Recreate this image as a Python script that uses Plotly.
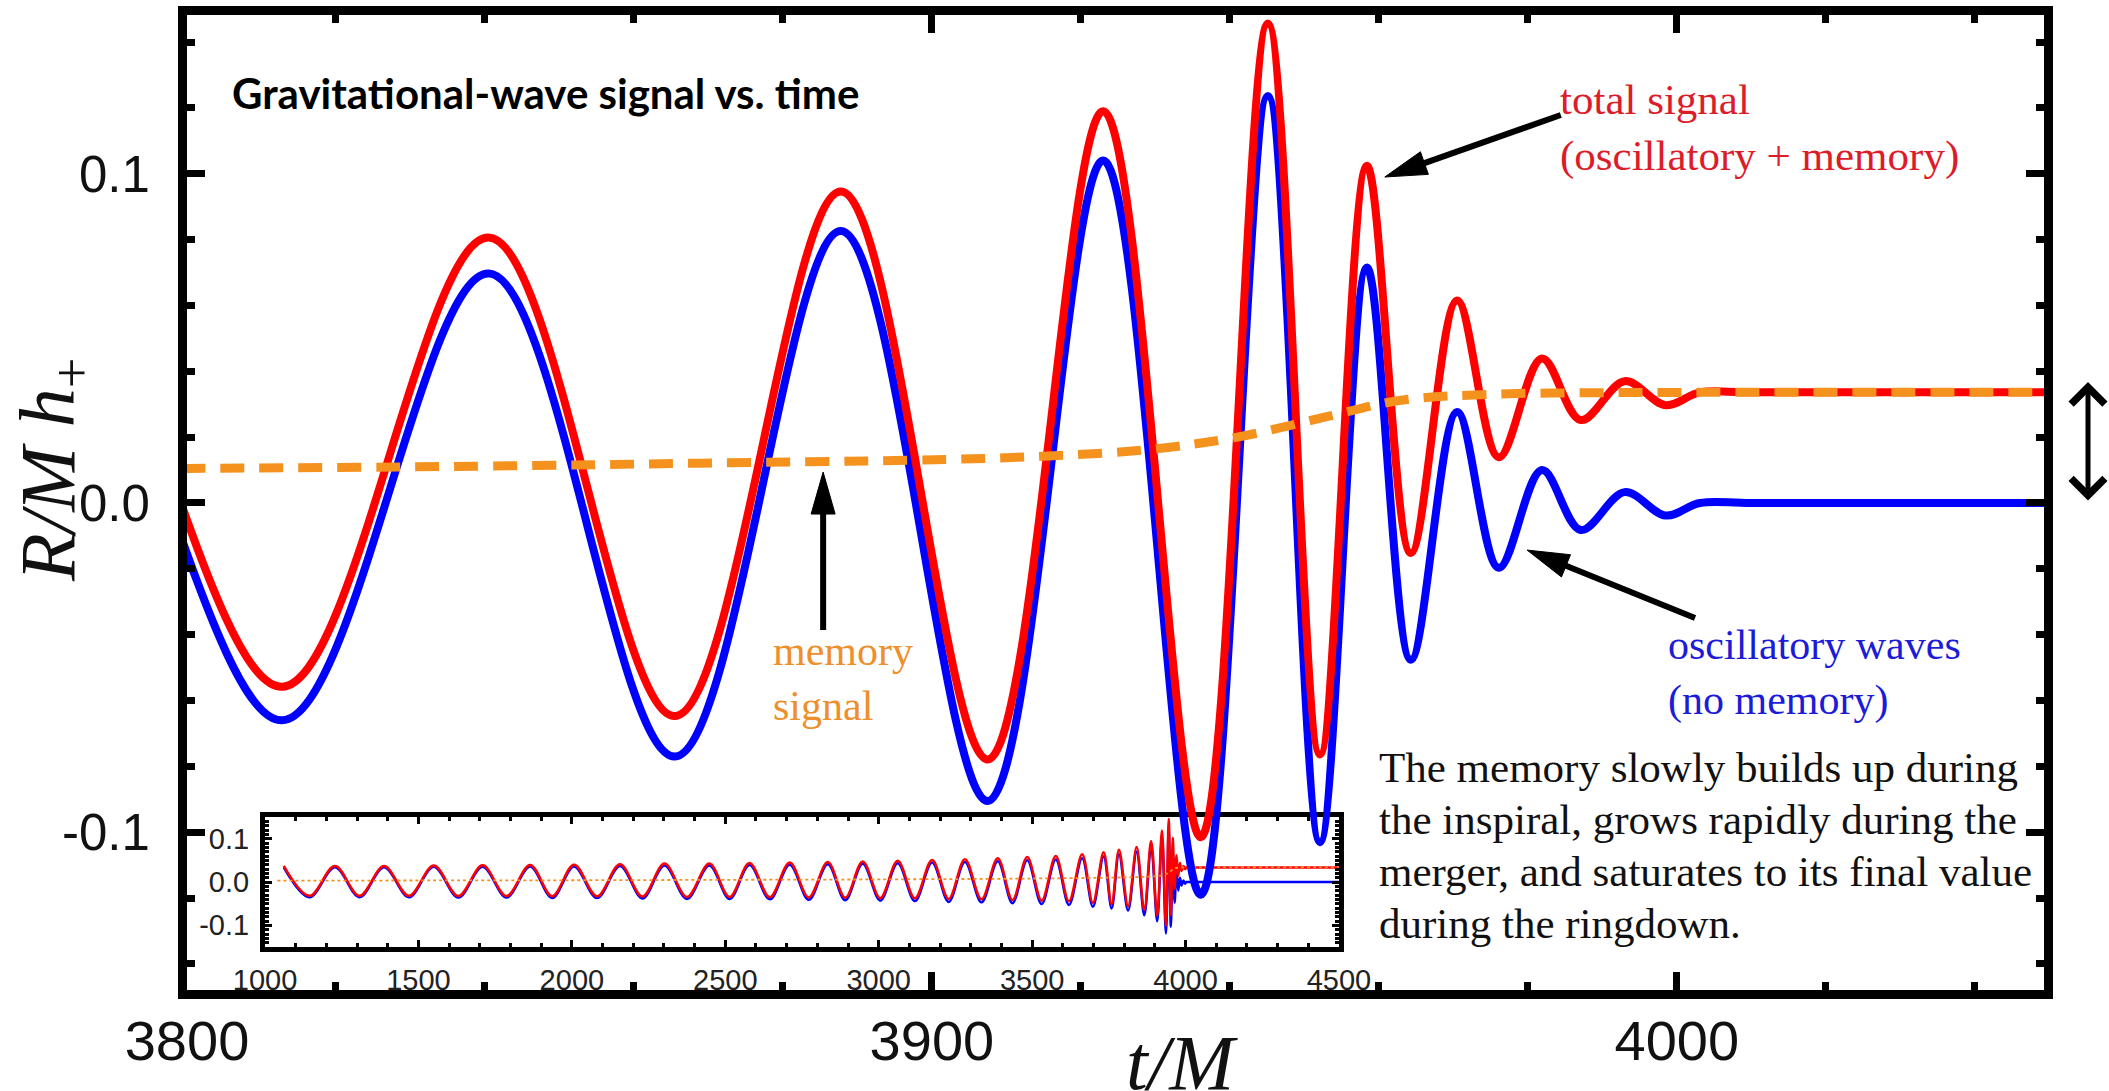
import math
import plotly.graph_objects as go

# ---------------- data ----------------
# times (t/M) of successive extrema of the strain (peak, trough, ...), then the flat tail
t_ext = [1061, 1145, 1228, 1308, 1388, 1469, 1550, 1630, 1709, 1787,
         1864, 1936, 2007, 2082, 2157, 2230, 2302, 2375, 2448, 2514,
         2579, 2645, 2710, 2772, 2834, 2891, 2948, 3005, 3062, 3118,
         3174, 3228, 3281, 3335, 3388, 3436, 3484, 3531, 3577, 3620,
         3663, 3698, 3733, 3759, 3783, 3812.75, 3840.5, 3865.5, 3887.8, 3907.5,
         3923, 3936.1, 3945.1, 3952.1, 3958.4, 3964.3, 3970.5, 3976.1, 3981.9, 3987.1,
         3993.0, 3998.5, 4003.1, 4010, 4050, 4500]

# oscillatory waves (no memory), R/M h+
h_osc = [0.034, -0.035, 0.034, -0.035, 0.034, -0.035, 0.035, -0.036, 0.035, -0.036,
         0.036, -0.037, 0.036, -0.037, 0.037, -0.038, 0.038, -0.039, 0.038, -0.039,
         0.039, -0.040, 0.040, -0.041, 0.041, -0.042, 0.042, -0.043, 0.043, -0.044,
         0.045, -0.046, 0.046, -0.047, 0.048, -0.049, 0.050, -0.051, 0.052, -0.053,
         0.055, -0.057, 0.059, -0.061, 0.064, -0.066, 0.0697, -0.077, 0.0826, -0.0905,
         0.104, -0.119, 0.1236, -0.103, 0.0715, -0.0476, 0.0276, -0.0197, 0.0100, -0.0082,
         0.0033, -0.0038, 0.0, 0.0, 0.0, 0.0]

# total signal (oscillatory + memory), R/M h+
h_tot = [0.037, -0.032, 0.037, -0.032, 0.037, -0.032, 0.038, -0.0325, 0.0385, -0.0325,
         0.0395, -0.033, 0.040, -0.033, 0.041, -0.0335, 0.0425, -0.0345, 0.0425, -0.0345,
         0.044, -0.035, 0.045, -0.0355, 0.046, -0.0365, 0.0475, -0.037, 0.049, -0.0375,
         0.051, -0.039, 0.0525, -0.040, 0.055, -0.0415, 0.0575, -0.043, 0.060, -0.0445,
         0.064, -0.048, 0.0685, -0.051, 0.0743, -0.0558, 0.0806, -0.0647, 0.0946, -0.0779,
         0.119, -0.1015, 0.1456, -0.0764, 0.1024, -0.0152, 0.0615, 0.0139, 0.0439, 0.0252,
         0.0370, 0.0297, 0.0336, 0.0336, 0.0336, 0.0336]

# memory signal
t_mem = [1040, 1500, 2000, 2500, 3000, 3500, 3800, 3840, 3869, 3897,
         3915, 3929, 3941, 3953, 3963, 3975, 3990, 4003, 4050, 4500]
h_mem = [0.0030, 0.0035, 0.0040, 0.0050, 0.0060, 0.0080, 0.0105, 0.0112, 0.0121, 0.0130,
         0.0142, 0.0162, 0.0200, 0.0262, 0.0312, 0.0330, 0.0335, 0.0336, 0.0336, 0.0336]

# tick labels
main_x_ticks = [3800, 3900, 4000]
y_tick_vals = [-0.1, 0.0, 0.1]
y_tick_text = ['-0.1', '0.0', '0.1']
inset_x_ticks = [1000, 1500, 2000, 2500, 3000, 3500, 4000, 4500]

# explanatory text, one entry per line
note_lines = ['The memory slowly builds up during',
              'the inspiral, grows rapidly during the',
              'merger, and saturates to its final value',
              'during the ringdown.']

# ---------------- figure ----------------
W, H = 2109, 1091
RED, BLUE, ORANGE = '#ff0000', '#0000ff', '#f5921e'
SANS = 'Liberation Sans, Arial, sans-serif'
SERIF = 'Liberation Serif, Times New Roman, serif'

fig = go.Figure()

# inset (drawn first, underneath the main curves)
fig.add_trace(go.Scatter(x=t_ext, y=h_osc, xaxis='x', yaxis='y', mode='lines',
                         line=dict(color=BLUE, width=2.5, shape='spline', simplify=False),
                         hoverinfo='skip'))
fig.add_trace(go.Scatter(x=t_ext, y=h_tot, xaxis='x', yaxis='y', mode='lines',
                         line=dict(color=RED, width=2.5, shape='spline', simplify=False),
                         hoverinfo='skip'))
fig.add_trace(go.Scatter(x=t_mem, y=h_mem, xaxis='x', yaxis='y', mode='lines',
                         line=dict(color=ORANGE, width=1.8, dash='dot', shape='spline', simplify=False),
                         hoverinfo='skip'))

# main panel
fig.add_trace(go.Scatter(x=t_ext, y=h_osc, xaxis='x2', yaxis='y2', mode='lines',
                         line=dict(color=BLUE, width=8, shape='spline', simplify=False),
                         hoverinfo='skip'))
fig.add_trace(go.Scatter(x=t_ext, y=h_tot, xaxis='x2', yaxis='y2', mode='lines',
                         line=dict(color=RED, width=8, shape='spline', simplify=False),
                         hoverinfo='skip'))
fig.add_trace(go.Scatter(x=t_mem, y=h_mem, xaxis='x2', yaxis='y2', mode='lines',
                         line=dict(color=ORANGE, width=9, dash='24px,15px', shape='spline', simplify=False),
                         hoverinfo='skip'))

main_axis = dict(showline=True, linecolor='black', linewidth=9, mirror='allticks',
                 ticks='inside', tickcolor='black', tickwidth=7, ticklen=18,
                 showgrid=False, zeroline=False, automargin=False)
inset_axis = dict(showline=True, linecolor='black', linewidth=5, mirror='allticks',
                  ticks='inside', tickcolor='black', tickwidth=3, ticklen=7,
                  showgrid=False, zeroline=False, automargin=False)

fig.update_layout(
    width=W, height=H, autosize=False,
    margin=dict(l=0, r=0, t=0, b=0, autoexpand=False),
    paper_bgcolor='white', plot_bgcolor='rgba(0,0,0,0)',
    showlegend=False,
    xaxis=dict(inset_axis, domain=[265 / W, 1339 / W], range=[999.9, 4500.1], anchor='y',
               tickmode='array', tickvals=inset_x_ticks, tickformat='d',
               tickfont=dict(family=SANS, size=29, color='#222'), ticklabelstandoff=3,
               minor=dict(tickmode='linear', tick0=1000, dtick=100, ticks='inside',
                          ticklen=4, tickwidth=3, tickcolor='black')),
    yaxis=dict(inset_axis, domain=[1 - 947 / H, 1 - 817 / H], range=[-0.15, 0.15], anchor='x',
               tickmode='array', tickvals=y_tick_vals, ticktext=y_tick_text,
               tickfont=dict(family=SANS, size=29, color='#222'), ticklabelstandoff=5,
               minor=dict(tickmode='linear', tick0=0, dtick=0.01, ticks='inside',
                          ticklen=4, tickwidth=2.5, tickcolor='black')),
    xaxis2=dict(main_axis, domain=[187 / W, 2044 / W], range=[3800, 4049.3], anchor='y2',
                tickmode='array', tickvals=main_x_ticks, tickformat='d',
                tickfont=dict(family=SANS, size=56, color='#111'), ticklabelstandoff=-6,
                minor=dict(tickmode='linear', tick0=3800, dtick=20, ticks='inside',
                           ticklen=8, tickwidth=7, tickcolor='black')),
    yaxis2=dict(main_axis, domain=[1 - 990 / H, 1 - 15 / H], range=[-0.1479, 0.1482], anchor='x2',
                tickmode='array', tickvals=y_tick_vals, ticktext=y_tick_text,
                tickfont=dict(family=SANS, size=51, color='#111'), ticklabelstandoff=18,
                minor=dict(tickmode='linear', tick0=0, dtick=0.02, ticks='inside',
                           ticklen=8, tickwidth=7, tickcolor='black')),
)

ann = []
# title
ann.append(dict(text='<b>Gravitational-wave signal vs. time</b>', xref='paper', yref='paper',
                x=230 / W, y=1 - 93 / H, xanchor='left', yanchor='middle', showarrow=False,
                font=dict(family='Lato, Open Sans, sans-serif', size=42, color='black')))
# labels
ann.append(dict(text='total signal<br>(oscillatory + memory)', xref='paper', yref='paper',
                x=1558 / W, y=1 - 74 / H, xanchor='left', yanchor='top', align='left',
                showarrow=False, font=dict(family=SERIF, size=43, color='#dd1c2a')))
ann.append(dict(text='oscillatory waves<br>(no memory)', xref='paper', yref='paper',
                x=1666 / W, y=1 - 620 / H, xanchor='left', yanchor='top', align='left',
                showarrow=False, font=dict(family=SERIF, size=42, color='#1c1cd8')))
ann.append(dict(text='memory<br>signal', xref='paper', yref='paper',
                x=771 / W, y=1 - 626 / H, xanchor='left', yanchor='top', align='left',
                showarrow=False, font=dict(family=SERIF, size=42, color='#ee8f2b')))
for i, line in enumerate(note_lines):
    ann.append(dict(text=line, xref='paper', yref='paper', x=1377 / W, y=1 - (742 + 52 * i) / H,
                    xanchor='left', yanchor='top', align='left', showarrow=False,
                    font=dict(family=SERIF, size=43, color='#111')))
# axis titles
ann.append(dict(text='<i>t/M</i>', xref='paper', yref='paper', x=1182 / W, y=1 - 1062 / H,
                xanchor='center', yanchor='middle', showarrow=False,
                font=dict(family=SERIF, size=78, color='#111')))
ann.append(dict(text='<i>R/M h</i><sub>+</sub>', xref='paper', yref='paper', x=53 / W, y=1 - 470 / H,
                xanchor='center', yanchor='middle', textangle=-90, showarrow=False,
                font=dict(family=SERIF, size=78, color='#111')))
# double-headed arrow at the right edge (memory offset)
ann.append(dict(text='', xref='paper', yref='paper', x=2088 / W, y=1 - 382 / H, ax=0, ay=120,
                axref='pixel', ayref='pixel', showarrow=True, arrowside='end+start',
                arrowhead=4, startarrowhead=4, arrowwidth=5, arrowsize=1.3, startarrowsize=1.3,
                arrowcolor='black'))
fig.update_layout(annotations=ann)


# pointer arrows: shaft + narrow filled head, sized in pixels, anchored at the tip (data coords)
def pointer(x_tip, y_tip, tail_dx, tail_dy, head_len=42, head_half=12, width=6):
    # tail offset given in screen pixels (right, down); shape pixel coords are (right, up)
    tx, ty = tail_dx, -tail_dy
    ux, uy = -tx, -ty
    n = math.hypot(ux, uy)
    ux, uy = ux / n, uy / n
    px, py = -uy, ux
    bx, by = -head_len * ux, -head_len * uy
    sx, sy = -(head_len - 6) * ux, -(head_len - 6) * uy
    common = dict(xref='x2', yref='y2', xsizemode='pixel', ysizemode='pixel',
                  xanchor=x_tip, yanchor=y_tip, layer='above')
    shaft = dict(common, type='path', path=f'M{tx:.2f},{ty:.2f} L{sx:.2f},{sy:.2f}',
                 line=dict(color='black', width=width))
    head = dict(common, type='path',
                path=(f'M0,0 L{bx + head_half * px:.2f},{by + head_half * py:.2f} '
                      f'L{bx - head_half * px:.2f},{by - head_half * py:.2f} Z'),
                line=dict(color='black', width=1), fillcolor='black')
    return [shaft, head]


shapes = []
shapes += pointer(3885.4, 0.0094, 0, 158)        # memory signal
shapes += pointer(3960.8, 0.099, 176, -62)       # total signal
shapes += pointer(3979.9, -0.0143, 168, 68)      # oscillatory waves
fig.update_layout(shapes=shapes)

fig.write_html('out.html', config={'displayModeBar': False},
               post_script="document.body.style.margin='0';document.body.style.overflow='hidden';")
